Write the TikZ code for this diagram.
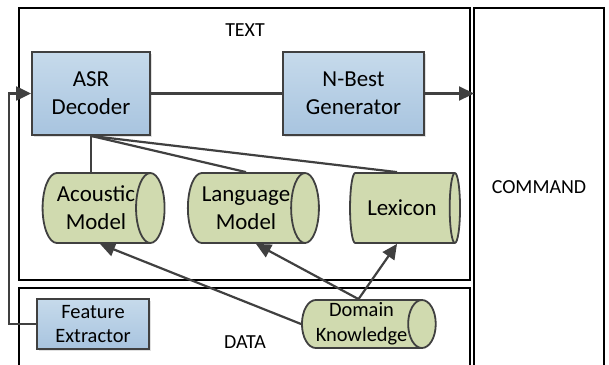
\documentclass[tikz,border=0pt]{standalone}
\usepackage{fontspec}
\setmainfont{Carlito}
\usetikzlibrary{arrows.meta,shapes.geometric,shadows}
\definecolor{edge}{HTML}{404040}
\definecolor{bluetop}{HTML}{C6DAEB}
\definecolor{bluebot}{HTML}{A8C4DF}
\definecolor{greenfill}{HTML}{D0DAAF}
\begin{document}
\begin{tikzpicture}[x=1bp,y=-1bp,
  font=\fontsize{20}{26}\selectfont,
  big/.style={font=\fontsize{23}{28}\selectfont},
  small/.style={font=\fontsize{20.5}{25}\selectfont},
  container/.style={draw=black,line width=1.8bp},
  bluebox/.style={draw=edge,line width=1.8bp,top color=bluetop,bottom color=bluebot,
    align=center,inner sep=0pt,
    drop shadow={shadow xshift=2bp,shadow yshift=-2bp,fill=black!20,opacity=0.6}},
  cyl/.style={cylinder,shape border rotate=0,draw=edge,line width=1.8bp,
    cylinder uses custom fill,cylinder body fill=greenfill,cylinder end fill=greenfill,
    aspect=0.65,align=center,inner sep=0pt},
  conn/.style={draw=edge,line width=2.2bp},
  arr/.style={conn,-{Triangle[length=15bp,width=14bp]}},
  lbl/.style={inner sep=0pt,align=center}
]
\useasboundingbox (0,0) rectangle (609,364);
% containers
\draw[container] (19,8) rectangle (470,280);
\draw[container] (19,288) rectangle (470,370);
\draw[container] (474,8) rectangle (604,370);
\coordinate (cmdw) at (474,93.5);
\node[lbl] (textlbl) at (245,30) {TEXT};
\node[lbl] (datalbl) at (245,342) {DATA};
\node[lbl] (cmdlbl) at (539,187) {COMMAND};
% nodes
\node[bluebox,big,minimum width=118bp,minimum height=83bp] (asr) at (91,93.5) {ASR\\Decoder};
\node[bluebox,big,minimum width=141bp,minimum height=83bp] (nbest) at (353.5,93.5) {N-Best\\Generator};
\node[cyl,big,minimum height=122bp,minimum width=70bp] (ac) at (96,208) {Acoustic\\Model};
\node[cyl,big,minimum height=122bp,minimum width=70bp] (lm) at (246,208) {Language\\Model};
\node[cyl,big,minimum height=110bp,minimum width=70bp] (lex) at (402,208) {Lexicon};
\node[cyl,small,minimum height=133bp,minimum width=48bp] (dk) at (361.5,324) {Domain\\Knowledge};
\node[bluebox,small,minimum width=112bp,minimum height=50bp] (fe) at (93,324) {Feature\\Extractor};
% connectors
\draw[conn] (asr.east) -- (nbest.east -| nbest.west);
\draw[arr] (nbest.east) -- (cmdw);
\draw[conn] (asr.south) -- (asr.south |- ac.north);
\draw[conn] (asr.south) -- (lm.north);
\draw[conn] (asr.south) -- ([xshift=-5bp]lex.north);
\draw[arr] (fe.west) -- ++(-27,0) |- (asr.west);
\draw[arr] (dk.west) -- ([xshift=4bp]ac.south);
\draw[arr] ([xshift=-3bp]dk.north) -- ([xshift=10bp]lm.south);
\draw[arr] ([xshift=-3bp]dk.north) -- ([xshift=-5bp]lex.south);
\end{tikzpicture}
\end{document}
